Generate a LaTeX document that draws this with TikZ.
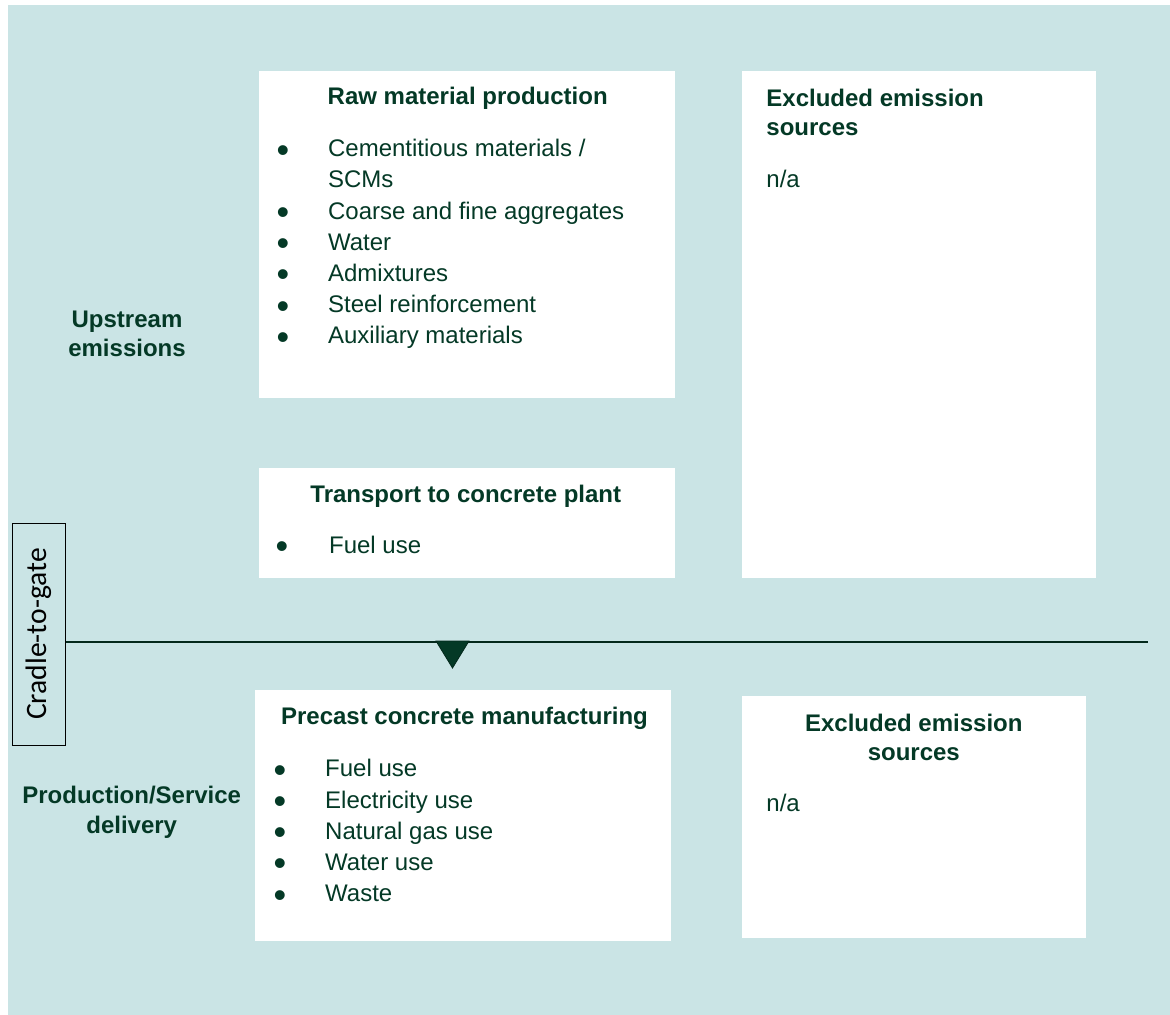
\documentclass[tikz,border=0pt]{standalone}
\usepackage{fontspec}
\setmainfont{Liberation Sans}
\newfontfamily\cradlefont{Carlito}
\usepackage{graphicx}
\usepackage{tikz}
\definecolor{panelteal}{RGB}{202,228,229}
\definecolor{darkgreen}{RGB}{4,57,38}
\newcommand{\bitem}[1]{\makebox[25.8pt][l]{\raisebox{-2.7pt}[5pt][0pt]{\scalebox{1.5}{\textbullet}}}#1}

\begin{document}
\begin{tikzpicture}[x=0.5pt, y=-0.5pt,
		box_style/.style={fill=white, inner sep=0pt, anchor=north west},
		title_style/.style={font=\fontsize{12}{14.8}\selectfont\bfseries, text=darkgreen, inner sep=0pt},
		list_style/.style={font=\fontsize{12}{15.6}\selectfont, text=darkgreen, align=left, inner sep=0pt, anchor=base west},
		line_style/.style={draw=darkgreen!70!black, line width=0.65pt}]
		
		\useasboundingbox (0,0) rectangle (1170,1015);
		\fill[panelteal] (8,5) rectangle (1170,1015);
		
		\node[box_style, minimum width=208pt, minimum height=163.5pt] (raw_box) at (259,71) {};
		\node[box_style, minimum width=208pt, minimum height=55pt] (transport_box) at (259,468) {};
		\node[box_style, minimum width=177pt, minimum height=253.5pt] (excl_up_box) at (742,71) {};
		\node[box_style, minimum width=208pt, minimum height=125.5pt] (precast_box) at (255,690) {};
		\node[box_style, minimum width=172pt, minimum height=121pt] (excl_down_box) at (742,696) {};
		
		% multi-line nodes sit on the baseline of their last line
		\node[title_style, anchor=base west] (raw_title) at (327.3,104.4) {Raw material production};
		\node[list_style] (raw_list) at (276.1,344) {\bitem{Cementitious materials /}\\ \hspace*{25.8pt}SCMs\\ \bitem{Coarse and fine aggregates}\\ \bitem{Water}\\ \bitem{Admixtures}\\ \bitem{Steel reinforcement}\\ \bitem{Auxiliary materials}};
		
		\node[title_style, anchor=base west] (transport_title) at (310,502.3) {Transport to concrete plant};
		\node[list_style] (transport_list) at (275.1,553) {\bitem{\hspace*{1pt}Fuel use}};
		
		\node[title_style, anchor=base west, align=left] (excl_up_title) at (766,136) {Excluded emission\\sources};
		\node[list_style] (excl_up_text) at (766,188) {n/a};
		
		\node[title_style, anchor=base, align=center] (upstream) at (127,356.7) {Upstream\\emissions};
		\node[title_style, anchor=base, align=center] (production) at (131.7,833) {Production/Service\\delivery};
		
		\node[title_style, anchor=base west] (precast_title) at (280.7,724.3) {Precast concrete manufacturing};
		\node[list_style] (precast_list) at (273.2,901.7) {\bitem{Fuel use}\\ \bitem{Electricity use}\\ \bitem{Natural gas use}\\ \bitem{Water use}\\ \bitem{Waste}};
		
		\node[title_style, anchor=base, align=center] (excl_down_title) at (913.8,760.7) {Excluded emission\\sources};
		\node[list_style] (excl_down_text) at (766,811.7) {n/a};
		
		\node[draw=black, line width=0.5pt, rotate=90, minimum width=111pt, minimum height=26.5pt, inner sep=0pt, font=\cradlefont\fontsize{14.8}{16}\selectfont] (cradle) at (38.5,634) {Cradle-to-gate};
		
		\coordinate (line_end) at (1148,642);
		\draw[line_style] (cradle.south |- line_end) -- (line_end);
		\fill[darkgreen, draw=darkgreen!70!black, line width=0.4pt] (436,641) -- (469,641) -- (452.5,668) -- cycle;
		
\end{tikzpicture}
\end{document}
